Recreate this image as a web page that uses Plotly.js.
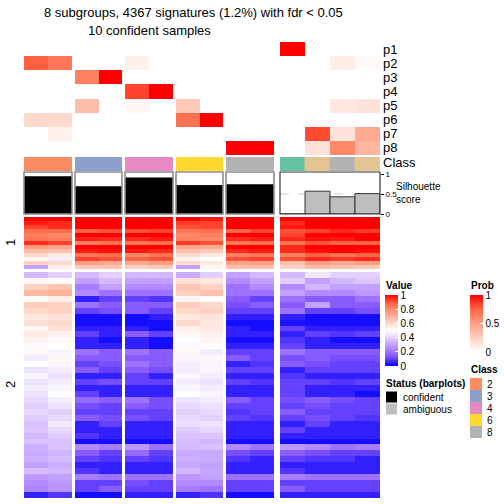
<!DOCTYPE html>
<html><head><meta charset="utf-8">
<script src="https://cdn.plot.ly/plotly-3.0.1.min.js"></script>
<style>html,body{margin:0;padding:0;background:#fff}</style>
</head><body><div id="chart" style="width:504px;height:504px"></div>
<script>
// ---------------- data ----------------
const groupSizes = [2, 2, 2, 2, 2, 4];
const classOf = [2, 2, 3, 3, 4, 4, 6, 6, 8, 8, 1, 7, 8, 7];
const statusOf = ['confident','confident','confident','confident','confident','confident','confident','confident','confident','confident','ambiguous','ambiguous','ambiguous','ambiguous'];
const silhouette = [0.93, 0.93, 0.68, 0.68, 0.9, 0.9, 0.71, 0.71, 0.73, 0.73, 0, 0.57, 0.43, 0.51];
const probLabels = ['p1','p2','p3','p4','p5','p6','p7','p8'];
const p1 = [0, 0, 0, 0, 0, 0, 0, 0, 0, 0, 1, 0, 0, 0];
const p2 = [0.77, 0.68, 0, 0, 0.08, 0, 0, 0, 0, 0, 0, 0, 0.1, 0.03];
const p3 = [0, 0, 0.64, 1, 0, 0, 0, 0, 0, 0, 0, 0, 0, 0];
const p4 = [0, 0, 0, 0, 0.84, 1, 0, 0, 0, 0, 0, 0, 0, 0];
const p5 = [0, 0, 0.34, 0, 0.04, 0, 0.28, 0, 0, 0, 0, 0, 0.12, 0.15];
const p6 = [0.2, 0.2, 0, 0, 0, 0, 0.7, 1, 0, 0, 0, 0, 0, 0];
const p7 = [0, 0.07, 0, 0, 0, 0, 0, 0, 0, 0, 0, 0.82, 0.15, 0.44];
const p8 = [0, 0, 0, 0, 0, 0, 0, 0, 1, 1, 0, 0.15, 0.6, 0.38];
const probRows = [p1, p2, p3, p4, p5, p6, p7, p8];
const classLegend = ['2', '3', '4', '6', '8'];
const classColors = {1:'#66C2A5', 2:'#FC8D62', 3:'#8DA0CB', 4:'#E78AC3', 6:'#FFD92F', 7:'#E5C494', 8:'#B3B3B3'};
const statusColors = {confident:'#000000', ambiguous:'#BEBEBE'};
const rowSplitLabels = ['1', '2'];

// signature heatmap, row cluster 1 (top) and 2 (bottom); 14 samples each row
const cluster1Rows = [
 [1.0,1.0, 1.0,1.0, 1.0,1.0, 1.0,0.97, 1.0,1.0, 1.0,1.0,1.0,1.0],
 [0.97,0.95, 1.0,1.0, 1.0,1.0, 0.93,0.92, 1.0,1.0, 0.95,1.0,1.0,1.0],
 [0.92,0.95, 1.0,1.0, 1.0,1.0, 0.9,0.92, 1.0,1.0, 0.97,1.0,1.0,1.0],
 [0.86,0.86, 0.88,0.9, 0.9,0.92, 0.84,0.86, 0.88,0.92, 0.9,0.92,0.95,0.93],
 [0.82,0.8, 1.0,1.0, 1.0,1.0, 0.8,0.82, 1.0,1.0, 0.92,1.0,1.0,1.0],
 [0.84,0.82, 0.96,0.95, 0.95,0.97, 0.82,0.8, 0.95,0.97, 0.95,0.98,0.97,1.0],
 [0.95,0.92, 0.82,0.85, 0.84,0.86, 0.93,0.9, 0.84,0.86, 0.85,0.9,0.88,0.88],
 [0.76,0.74, 1.0,1.0, 1.0,1.0, 0.74,0.72, 1.0,1.0, 0.95,1.0,1.0,1.0],
 [0.68,0.66, 0.97,0.98, 0.97,0.95, 0.66,0.64, 0.95,0.97, 0.95,0.98,1.0,0.98],
 [0.6,0.56, 0.84,0.86, 0.8,0.85, 0.6,0.56, 0.82,0.84, 0.82,0.88,0.85,0.88],
 [0.52,0.46, 0.92,0.9, 0.88,0.9, 0.52,0.5, 0.9,0.92, 0.9,0.95,0.93,0.95],
 [0.62,0.6, 0.75,0.72, 0.72,0.75, 0.6,0.56, 0.74,0.75, 0.66,0.75,0.72,0.75],
 [0.3,0.55, 0.64,0.65, 0.62,0.64, 0.3,0.52, 0.66,0.66, 0.62,0.68,0.66,0.64]
];
const cluster2Rows = [
 [0.35,0.4, 0.35,0.4, 0.35,0.35, 0.32,0.4, 0.3,0.35, 0.35,0.45,0.4,0.4],
 [0.52,0.5, 0.3,0.35, 0.3,0.3, 0.58,0.56, 0.25,0.3, 0.4,0.3,0.35,0.38],
 [0.62,0.65, 0.22,0.3, 0.25,0.25, 0.65,0.62, 0.2,0.25, 0.25,0.35,0.3,0.3],
 [0.68,0.7, 0.25,0.2, 0.2,0.2, 0.62,0.66, 0.2,0.2, 0.3,0.25,0.25,0.28],
 [0.5,0.54, 0.05,0.1, 0.1,0.08, 0.52,0.5, 0.15,0.1, 0.2,0.15,0.15,0.2],
 [0.63,0.62, 0.2,0.15, 0.15,0.15, 0.63,0.6, 0.12,0.15, 0.15,0.3,0.15,0.15],
 [0.6,0.62, 0.1,0.12, 0.15,0.1, 0.6,0.62, 0.1,0.1, 0.2,0.1,0.1,0.12],
 [0.56,0.58, 0.02,0.02, 0.02,0.05, 0.56,0.57, 0.05,0.05, 0.05,0.02,0.02,0.02],
 [0.58,0.6, 0.02,0.02, 0.02,0.02, 0.6,0.56, 0.02,0.02, 0.03,0.02,0.02,0.02],
 [0.52,0.58, 0.05,0.05, 0.05,0.02, 0.54,0.56, 0.05,0.02, 0.1,0.05,0.05,0.05],
 [0.56,0.53, 0.1,0.05, 0.15,0.1, 0.52,0.54, 0.05,0.05, 0.05,0.1,0.08,0.1],
 [0.53,0.51, 0.05,0.02, 0.05,0.02, 0.5,0.52, 0.02,0.02, 0.08,0.05,0.02,0.02],
 [0.49,0.5, 0.05,0.05, 0.05,0.02, 0.49,0.5, 0.05,0.05, 0.1,0.05,0.05,0.05],
 [0.52,0.48, 0.2,0.15, 0.2,0.15, 0.52,0.46, 0.1,0.1, 0.2,0.15,0.15,0.15],
 [0.46,0.52, 0.15,0.15, 0.15,0.15, 0.48,0.52, 0.15,0.1, 0.12,0.15,0.12,0.12],
 [0.5,0.48, 0.1,0.12, 0.2,0.15, 0.46,0.48, 0.05,0.08, 0.15,0.12,0.1,0.1],
 [0.44,0.46, 0.15,0.1, 0.15,0.12, 0.46,0.48, 0.1,0.1, 0.05,0.1,0.1,0.1],
 [0.48,0.44, 0.05,0.05, 0.1,0.05, 0.48,0.46, 0.05,0.05, 0.08,0.05,0.05,0.05],
 [0.44,0.46, 0.1,0.12, 0.1,0.1, 0.46,0.44, 0.1,0.08, 0.1,0.1,0.08,0.1],
 [0.46,0.48, 0.05,0.05, 0.05,0.05, 0.48,0.46, 0.05,0.05, 0.1,0.05,0.05,0.05],
 [0.44,0.5, 0.1,0.05, 0.05,0.05, 0.5,0.48, 0.05,0.05, 0.1,0.05,0.05,0.02],
 [0.42,0.46, 0.18,0.15, 0.2,0.12, 0.44,0.46, 0.15,0.1, 0.12,0.15,0.12,0.1],
 [0.4,0.44, 0.12,0.1, 0.15,0.12, 0.42,0.44, 0.1,0.1, 0.1,0.12,0.1,0.1],
 [0.42,0.4, 0.1,0.1, 0.1,0.1, 0.4,0.42, 0.08,0.1, 0.15,0.1,0.1,0.1],
 [0.39,0.42, 0.15,0.12, 0.12,0.1, 0.42,0.4, 0.1,0.08, 0.1,0.12,0.1,0.08],
 [0.37,0.46, 0.05,0.1, 0.05,0.05, 0.43,0.44, 0.05,0.05, 0.05,0.1,0.05,0.05],
 [0.38,0.42, 0.05,0.05, 0.05,0.05, 0.39,0.41, 0.05,0.05, 0.1,0.05,0.05,0.05],
 [0.35,0.39, 0.08,0.05, 0.05,0.05, 0.37,0.38, 0.05,0.05, 0.05,0.05,0.05,0.05],
 [0.37,0.37, 0.02,0.02, 0.02,0.02, 0.36,0.35, 0.02,0.02, 0.02,0.02,0.02,0.02],
 [0.33,0.37, 0.25,0.22, 0.28,0.2, 0.35,0.37, 0.25,0.2, 0.28,0.25,0.2,0.22],
 [0.32,0.34, 0.15,0.1, 0.18,0.1, 0.32,0.32, 0.12,0.1, 0.15,0.12,0.1,0.1],
 [0.33,0.36, 0.1,0.08, 0.1,0.08, 0.33,0.32, 0.08,0.05, 0.1,0.08,0.08,0.05],
 [0.3,0.33, 0.05,0.05, 0.05,0.05, 0.31,0.3, 0.05,0.05, 0.05,0.05,0.05,0.05],
 [0.36,0.35, 0.08,0.05, 0.05,0.05, 0.35,0.31, 0.05,0.05, 0.08,0.05,0.05,0.05],
 [0.28,0.3, 0.22,0.2, 0.2,0.2, 0.28,0.3, 0.2,0.2, 0.22,0.2,0.2,0.2],
 [0.25,0.28, 0.1,0.1, 0.12,0.1, 0.25,0.25, 0.1,0.1, 0.1,0.1,0.1,0.1],
 [0.24,0.27, 0.1,0.15, 0.1,0.1, 0.22,0.2, 0.1,0.1, 0.15,0.1,0.1,0.1],
 [0.05,0.08, 0.02,0.02, 0.05,0.05, 0.05,0.08, 0.02,0.02, 0.05,0.05,0.05,0.05]
];

// ---------------- styling / layout ----------------
const W = 504, H = 504;
const px = v => v / W, py = v => 1 - v / H;
const groupPx = [[24,72],[75,122],[125,173],[176,223],[226,274],[280,380]];
const valueScale = [[0,'rgb(0,0,255)'],[0.125,'rgb(125,81,255)'],[0.25,'rgb(179,138,255)'],[0.375,'rgb(220,196,255)'],[0.5,'rgb(255,255,255)'],[0.625,'rgb(255,207,191)'],[0.75,'rgb(255,158,129)'],[0.875,'rgb(255,104,70)'],[1,'rgb(255,0,0)']];
const probScale = [[0,'rgb(255,255,255)'],[0.25,'rgb(255,207,191)'],[0.5,'rgb(255,158,129)'],[0.75,'rgb(255,104,70)'],[1,'rgb(255,0,0)']];
const FONT = 'Liberation Sans, Arial, Helvetica, sans-serif';
const LEG = {size: 10, family: FONT, color: '#000'};

const traces = [];
const layout = {
  width: W, height: H, margin: {l:0, r:0, t:0, b:0},
  paper_bgcolor: '#fff', plot_bgcolor: 'rgba(0,0,0,0)',
  font: {family: FONT, size: 13, color: '#000'},
  showlegend: false, barmode: 'overlay',
  shapes: [], annotations: []
};

let start = 0;
groupSizes.forEach((n, g) => {
  const cols = Array.from({length: n}, (_, i) => start + i);
  const loc = cols.map((_, i) => i);
  const xa = g === 0 ? 'x' : 'x' + (g + 1);
  const xkey = g === 0 ? 'xaxis' : 'xaxis' + (g + 1);
  layout[xkey] = {domain: [px(groupPx[g][0]), px(groupPx[g][1])], range: [-0.5, n - 0.5], visible: false, fixedrange: true, anchor: 'y'};

  // prob heatmap
  traces.push({type: 'heatmap', xaxis: xa, yaxis: 'y', x: loc, y: probLabels.map((_, i) => i),
    z: probRows.map(r => cols.map(c => r[c])), zmin: 0, zmax: 1, colorscale: probScale,
    hoverinfo: 'skip', showscale: g === 0,
    colorbar: {x: px(470), xanchor: 'left', y: py(295), yanchor: 'top', len: 57, lenmode: 'pixels',
      thickness: 13, thicknessmode: 'pixels', outlinewidth: 0, xpad: 0, ypad: 0,
      tickvals: [0, 0.5, 1], ticktext: ['0', '0.5', '1'], ticks: 'inside', tickcolor: '#fff', ticklen: 3,
      tickfont: LEG}});

  // class row
  const clsCols = cols.map(c => classColors[classOf[c]]);
  traces.push({type: 'bar', xaxis: xa, yaxis: 'y2', x: loc, y: cols.map(() => 1), width: 1,
    marker: {color: clsCols, line: {width: 1, color: clsCols}}, hoverinfo: 'skip'});

  // silhouette
  const stCols = cols.map(c => statusColors[statusOf[c]]);
  traces.push({type: 'bar', xaxis: xa, yaxis: 'y3', x: loc, y: cols.map(c => silhouette[c]), width: 1,
    marker: {color: stCols, line: {width: 1, color: g === 5 ? '#333' : stCols}}, hoverinfo: 'skip'});

  // signature heatmaps
  traces.push({type: 'heatmap', xaxis: xa, yaxis: 'y4', x: loc, y: cluster1Rows.map((_, i) => i),
    z: cluster1Rows.map(r => cols.map(c => r[c])), zmin: 0, zmax: 1, colorscale: valueScale,
    hoverinfo: 'skip', showscale: false});
  traces.push({type: 'heatmap', xaxis: xa, yaxis: 'y5', x: loc, y: cluster2Rows.map((_, i) => i),
    z: cluster2Rows.map(r => cols.map(c => r[c])), zmin: 0, zmax: 1, colorscale: valueScale,
    hoverinfo: 'skip', showscale: g === 0,
    colorbar: {x: px(385), xanchor: 'left', y: py(295), yanchor: 'top', len: 71, lenmode: 'pixels',
      thickness: 13, thicknessmode: 'pixels', outlinewidth: 0, xpad: 0, ypad: 0,
      tickvals: [0, 0.2, 0.4, 0.6, 0.8, 1], ticktext: ['0', '0.2', '0.4', '0.6', '0.8', '1'],
      ticks: 'inside', tickcolor: '#fff', ticklen: 3, tickfont: LEG}});

  // silhouette box + 0.5 reference line
  layout.shapes.push({type: 'line', xref: 'paper', yref: 'y3', x0: px(groupPx[g][0]), x1: px(groupPx[g][1]),
    y0: 0.5, y1: 0.5, layer: 'below', line: {color: '#cfcfcf', width: 1, dash: 'dash'}});
  layout.shapes.push({type: 'rect', xref: 'paper', yref: 'paper', x0: px(groupPx[g][0]), x1: px(groupPx[g][1]),
    y0: py(214), y1: py(172), layer: 'above',
    line: {color: g === 5 ? '#333' : '#8c8c8c', width: g === 5 ? 1.2 : 1.6}});
  start += n;
});

layout.yaxis = {domain: [py(155), py(42)], range: [probRows.length - 0.5, -0.5], visible: false, fixedrange: true, anchor: 'x'};
layout.yaxis2 = {domain: [py(171), py(157)], range: [0, 1], visible: false, fixedrange: true, anchor: 'x'};
layout.yaxis3 = {domain: [py(214), py(172)], range: [0, 1.05], anchor: 'x6', side: 'right', showgrid: false, zeroline: false,
  showline: false, ticks: 'outside', ticklen: 3, tickwidth: 1, tickcolor: '#000', tickvals: [0, 0.5, 1], ticktext: ['0', '0.5', '1'],
  tickfont: {size: 8, family: FONT, color: '#000'}, fixedrange: true};
layout.yaxis4 = {domain: [py(269), py(217)], range: [cluster1Rows.length - 0.5, -0.5], visible: false, fixedrange: true, anchor: 'x'};
layout.yaxis5 = {domain: [py(498), py(272)], range: [cluster2Rows.length - 0.5, -0.5], visible: false, fixedrange: true, anchor: 'x'};

const ann = (text, x, y, opts = {}) => layout.annotations.push(Object.assign({
  text, xref: 'paper', yref: 'paper', x: px(x), y: py(y), showarrow: false,
  xanchor: 'left', yanchor: 'middle', font: {size: 13, family: FONT, color: '#000'}}, opts));

// titles
ann('8 subgroups, 4367 signatures (1.2%) with fdr &lt; 0.05', 193, 12, {xanchor: 'center'});
ann('10 confident samples', 149, 30, {xanchor: 'center'});

// prob row labels + Class
const rowH = (155 - 42) / probLabels.length;
probLabels.forEach((lab, i) => ann(lab, 381, 42 + rowH * (i + 0.5)));
ann('Class', 381, 163);
ann('Silhouette<br>score', 394, 193, {align: 'left', font: LEG});

// row split labels
ann(rowSplitLabels[0], 10, 243, {xanchor: 'center', textangle: -90});
ann(rowSplitLabels[1], 10, 385, {xanchor: 'center', textangle: -90});

// legend titles
ann('<b>Value</b>', 384, 285, {font: LEG});
ann('<b>Prob</b>', 469, 285, {font: LEG});
ann('<b>Class</b>', 469, 369, {font: LEG});
ann('<b>Status (barplots)</b>', 384, 383, {font: LEG});

// class legend keys
classLegend.forEach((c, i) => {
  const yc = 384 + i * 12;
  layout.shapes.push({type: 'rect', xref: 'paper', yref: 'paper', x0: px(470), x1: px(482), y0: py(yc - 6), y1: py(yc + 6),
    fillcolor: classColors[c], line: {width: 0}});
  ann(c, 485, yc, {font: LEG});
});
// status legend keys
['confident', 'ambiguous'].forEach((s, i) => {
  const yc = 397 + i * 12;
  layout.shapes.push({type: 'rect', xref: 'paper', yref: 'paper', x0: px(386), x1: px(397), y0: py(yc - 5.5), y1: py(yc + 5.5),
    fillcolor: statusColors[s], line: {width: 0}});
  ann(s, 401, yc, {font: LEG});
});

Plotly.newPlot('chart', traces, layout, {staticPlot: true, displayModeBar: false});
</script></body></html>
